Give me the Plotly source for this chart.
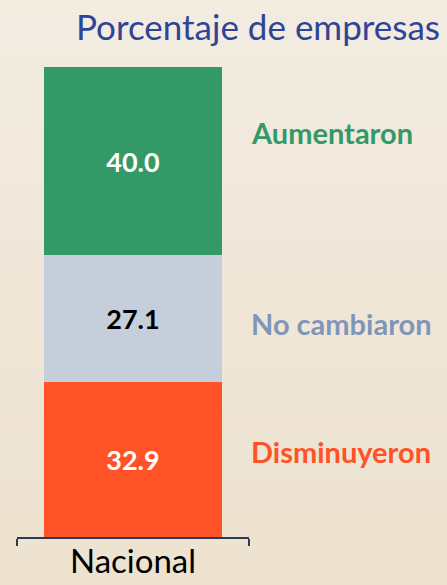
import plotly.graph_objects as go

categories = ["Nacional"]
series_names = ["Disminuyeron", "No cambiaron", "Aumentaron"]
disminuyeron = [32.9]
no_cambiaron = [27.1]
aumentaron = [40.0]
bar_colors = ["#FF5226", "#C5CFDC", "#339966"]
label_colors = ["#FF5226", "#7F96B8", "#339966"]
text_colors = ["white", "black", "white"]
values = [disminuyeron, no_cambiaron, aumentaron]

FONT = "Lato"

fig = go.Figure()
for name, vals, col, tcol in zip(series_names, values, bar_colors, text_colors):
    fig.add_trace(go.Bar(
        x=categories, y=vals, name=name,
        marker=dict(color=col, line=dict(width=0)),
        width=0.77,
        texttemplate="%{y:.1f}", textposition="inside",
        insidetextanchor="middle",
        textfont=dict(family=FONT, size=27, color=tcol, weight="bold"),
        hoverinfo="skip",
    ))

# background gradient bands
n = 30
top = (242, 236, 226)
bot = (237, 225, 206)
shapes = []
for i in range(n):
    t = i / (n - 1)
    c = tuple(round(top[k] + (bot[k] - top[k]) * t) for k in range(3))
    shapes.append(dict(type="rect", xref="paper", yref="paper",
                       x0=-0.1, x1=2.0, y0=1.2 - (i + 1) * 1.4 / n, y1=1.2 - i * 1.4 / n + 0.001,
                       fillcolor="rgb(%d,%d,%d)" % c, line=dict(width=0), layer="below"))

label_y = [18.1, 45.5, 86.0]
annotations = []
for name, col, ly in zip(series_names, label_colors, label_y):
    annotations.append(dict(text="<b>%s</b>" % name, x=1.0, xref="paper", y=ly, yref="y",
                            xanchor="left", yanchor="middle", showarrow=False,
                            font=dict(family=FONT, size=29, color=col)))

fig.update_layout(
    width=447, height=585,
    barmode="stack",
    showlegend=False,
    paper_bgcolor="#F0E6D8",
    plot_bgcolor="rgba(0,0,0,0)",
    margin=dict(l=17, r=198, t=67, b=48),
    title=dict(text="Porcentaje de empresas", xref="container", x=440 / 447, xanchor="right",
               yref="container", y=1 - 28 / 585, yanchor="middle",
               font=dict(family=FONT, size=35, color="#2E4596")),
    shapes=shapes,
    annotations=annotations,
    xaxis=dict(showline=True, linecolor="#2B3A55", linewidth=1.5,
               ticks="outside", tickson="boundaries", ticklen=7, tickcolor="#2B3A55",
               tickwidth=1.5, automargin=False, ticklabelstandoff=-5,
               tickfont=dict(family=FONT, size=33, color="black"),
               showgrid=False, zeroline=False),
    yaxis=dict(range=[0, 100], visible=False, showgrid=False, zeroline=False, automargin=False),
)

fig.write_html("out.html", config={"displayModeBar": False},
               post_script="document.body.style.margin='0';document.body.style.overflow='hidden';")
